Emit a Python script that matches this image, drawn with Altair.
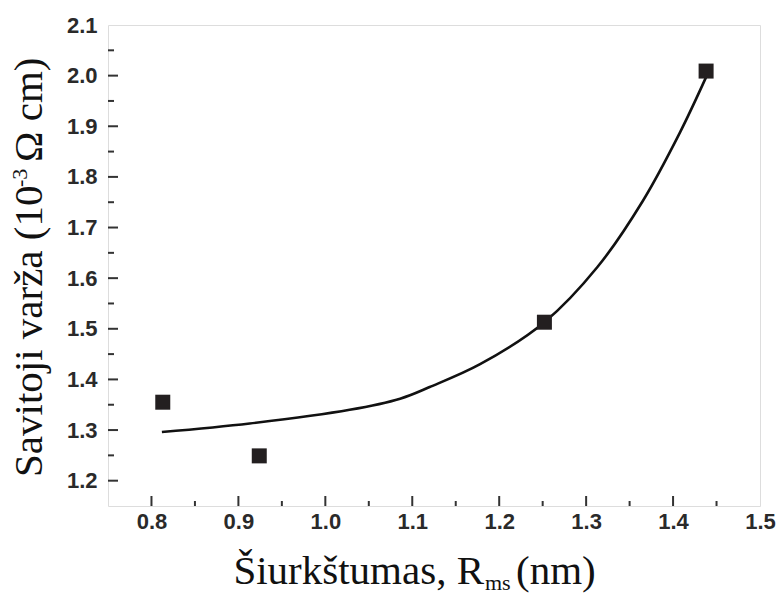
import altair as alt
import pandas as pd

# measured points
pt_x = [0.813, 0.924, 1.252, 1.438]
pt_y = [1.355, 1.249, 1.513, 2.009]

# fitted curve
cv_x = [0.812, 0.913, 1.028, 1.086, 1.120, 1.178, 1.252, 1.313, 1.365, 1.408, 1.438]
cv_y = [1.296, 1.313, 1.340, 1.362, 1.385, 1.430, 1.513, 1.622, 1.752, 1.888, 1.997]

x_major = [0.8, 0.9, 1.0, 1.1, 1.2, 1.3, 1.4]
x_minor = [0.85, 0.95, 1.05, 1.15, 1.25, 1.35, 1.45]
y_major = [1.2, 1.3, 1.4, 1.5, 1.6, 1.7, 1.8, 1.9, 2.0]
y_minor = [1.25, 1.35, 1.45, 1.55, 1.65, 1.75, 1.85, 1.95, 2.05]
x_labels = [0.8, 0.9, 1.0, 1.1, 1.2, 1.3, 1.4, 1.5]
y_labels = [1.2, 1.3, 1.4, 1.5, 1.6, 1.7, 1.8, 1.9, 2.0, 2.1]

W, H = 652, 481
AX = "#333333"
SERIF = "Liberation Serif, Times New Roman, serif"

xs = alt.Scale(domain=[0.75, 1.5], nice=False, zero=False)
ys = alt.Scale(domain=[1.15, 2.1], nice=False, zero=False)

lab = dict(domain=False, ticks=False, tickSize=0, grid=False, title=None,
           labelFont="Arial, Liberation Sans, sans-serif", labelFontWeight=700, labelFontSize=22,
           labelColor="#2a2a2a", format=".1f")

xaxis = alt.Axis(values=x_labels, labelPadding=5, labelFlush=False, **lab)
yaxis = alt.Axis(values=y_labels, labelPadding=11, **lab)

pts = pd.DataFrame({"x": pt_x, "y": pt_y})
cv = pd.DataFrame({"x": cv_x, "y": cv_y})

line = alt.Chart(cv).mark_line(color="#111111", strokeWidth=2.6, interpolate="catmull-rom").encode(
    x=alt.X("x:Q", scale=xs, axis=xaxis),
    y=alt.Y("y:Q", scale=ys, axis=yaxis),
)
points = alt.Chart(pts).mark_point(shape="square", filled=True, size=225, color="#231f20", opacity=1).encode(
    x=alt.X("x:Q", scale=xs),
    y=alt.Y("y:Q", scale=ys),
)

def xt(vals, length):
    return alt.Chart(pd.DataFrame({"x": vals})).mark_rule(color=AX, strokeWidth=2).encode(
        x=alt.X("x:Q", scale=xs), y=alt.value(H), y2=alt.value(H - length))

def yt(vals, length):
    return alt.Chart(pd.DataFrame({"y": vals})).mark_rule(color=AX, strokeWidth=2).encode(
        y=alt.Y("y:Q", scale=ys), x=alt.value(0), x2=alt.value(length))

one = pd.DataFrame({"a": [0]})

def txt(s, x, y, size, align="left", angle=0):
    kw = dict(text=s, font=SERIF, fontSize=size, color="#111111",
              align=align, baseline="alphabetic")
    if angle:
        kw["angle"] = angle
    return alt.Chart(one).mark_text(**kw).encode(x=alt.value(x), y=alt.value(y))

titles = [
    txt("Šiurkštumas, R", 376, 559, 41, align="right"),
    txt("ms", 377, 565, 22),
    txt("(nm)", 408, 559, 41),
    txt("Savitoji varža (10", -66, 452, 41, angle=270),
    txt("-3", -81, 162, 22, angle=270),
    txt("Ω cm)", -66, 137, 41, angle=270),
]

chart = alt.layer(
    xt(x_major, 10), xt(x_minor, 5), yt(y_major, 10), yt(y_minor, 6),
    line, points, *titles
).properties(
    width=W, height=H,
    autosize=alt.AutoSizeParams(type="none"),
    padding={"left": 108, "top": 25, "right": 21, "bottom": 88},
).configure_view(stroke=AX, strokeWidth=2.2).configure(background="white")

chart.save("out.html", embed_options={"renderer": "svg", "actions": False})
